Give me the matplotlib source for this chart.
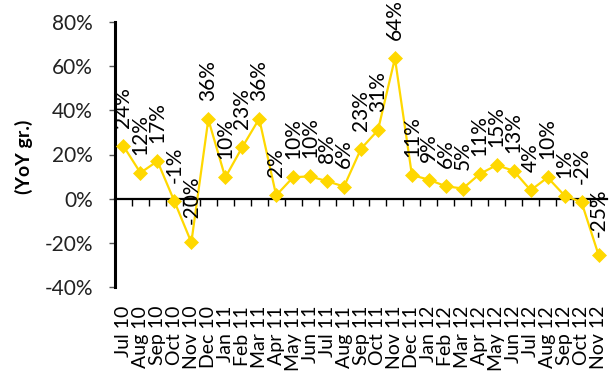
import numpy as np
import matplotlib
matplotlib.use("Agg")
import matplotlib.pyplot as plt

plt.rcParams['font.family'] = ['Lato', 'DejaVu Sans']

# monthly YoY growth, Jul 2010 - Nov 2012
months = ['Jul 10', 'Aug 10', 'Sep 10', 'Oct 10', 'Nov 10', 'Dec 10',
          'Jan 11', 'Feb 11', 'Mar 11', 'Apr 11', 'May 11', 'Jun 11',
          'Jul 11', 'Aug 11', 'Sep 11', 'Oct 11', 'Nov 11', 'Dec 11',
          'Jan 12', 'Feb 12', 'Mar 12', 'Apr 12', 'May 12', 'Jun 12',
          'Jul 12', 'Aug 12', 'Sep 12', 'Oct 12', 'Nov 12']
growth = [23.8, 11.7, 17.0, -1.2, -19.8, 35.9,
          9.6, 23.3, 36.2, 1.5, 9.7, 10.1,
          7.9, 5.5, 22.6, 31.0, 63.6, 10.7,
          8.6, 5.6, 4.6, 11.2, 15.2, 12.6,
          3.8, 9.6, 1.4, -1.6, -25.4]

YELLOW = '#FFD800'
FS = 15

fig = plt.figure(figsize=(6.16, 3.71), dpi=100)
ax = fig.add_axes([115 / 616, 84 / 371, 492 / 616, 265 / 371])

x = np.arange(len(months))
ax.plot(x, growth, color=YELLOW, lw=1.6, marker='D', ms=7.5,
        mec=YELLOW, mew=0.5, zorder=3)

ax.set_xlim(-0.5, len(months) - 0.5)
ax.set_ylim(-40, 80)

# axis styling
ax.spines['top'].set_visible(False)
ax.spines['right'].set_visible(False)
ax.spines['left'].set_linewidth(2.2)
ax.spines['bottom'].set_position(('data', 0))
ax.spines['bottom'].set_linewidth(1.6)

ax.set_yticks(np.arange(-40, 81, 20))
ax.set_yticklabels([f'{v}%' for v in range(-40, 81, 20)], fontsize=FS,
                   color='#222222')
ax.tick_params(axis='y', length=4, width=1, color='#555555', pad=12)

ax.set_xticks(x[:-1] + 0.5)
ax.set_xticklabels([])
ax.tick_params(axis='x', direction='out', length=5, width=1, color='black')

# category labels sit below the plot area
for i, m in enumerate(months):
    ax.annotate(m, xy=(i, -40), xytext=(0, -13.5), textcoords='offset points',
                rotation=90, ha='center', va='top', fontsize=14,
                annotation_clip=False)

# data labels
for i, v in enumerate(growth):
    ax.annotate(f'{v:.0f}%', xy=(i, v), xytext=(0, 13),
                textcoords='offset points', rotation=90,
                ha='center', va='bottom', fontsize=FS, annotation_clip=False)

fig.text(24 / 616, 1 - 157 / 371, '(YoY gr.)', rotation=90, ha='center',
         va='center', fontsize=14, fontweight='bold')

fig.savefig('out.png', dpi=100)
